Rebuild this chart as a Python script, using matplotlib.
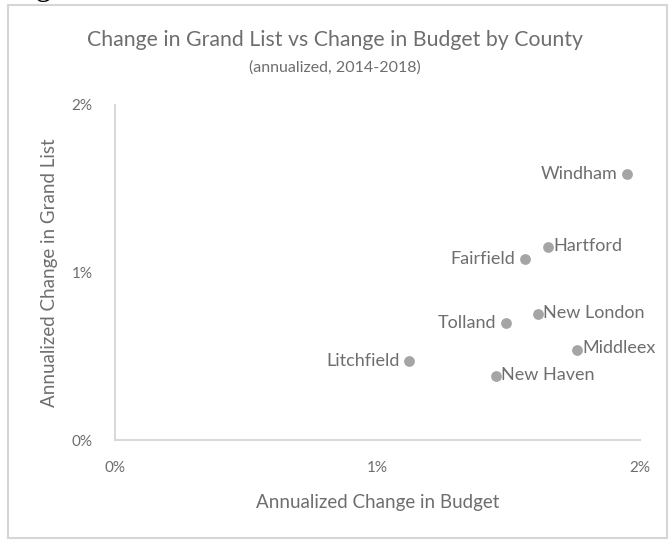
import numpy as np
import matplotlib
matplotlib.use("Agg")
import matplotlib.pyplot as plt
from matplotlib.patches import Rectangle
from matplotlib.ticker import FuncFormatter

# annualized % change, 2014-2018
counties = ["Windham", "Hartford", "Fairfield", "New London", "Tolland",
            "Middleex", "Litchfield", "New Haven"]
budget_chg = [1.95, 1.65, 1.56, 1.61, 1.49, 1.76, 1.12, 1.45]
grandlist_chg = [1.59, 1.15, 1.08, 0.75, 0.70, 0.54, 0.47, 0.38]
label_side = ["left", "right", "left", "right", "left", "right", "left", "right"]

txt = "#6e6e6e"
plt.rcParams['font.family'] = ['Lato', 'DejaVu Sans']

fig = plt.figure(figsize=(6.7, 5.4), dpi=100)
ax = fig.add_axes([115/670, 1 - 440/540, 525/670, 335/540])

# chart frame
fig.patches.append(Rectangle((8/670, 2/540), 659/670, 533/540, transform=fig.transFigure,
                             fill=False, edgecolor="#d6d6d6", linewidth=1.5))
# tail of a letter from the line above the chart
fig.text(36/670, 1 + 5/540, "g", ha="left", va="baseline", fontsize=22,
         color="black", family="Liberation Serif")

ax.scatter(budget_chg, grandlist_chg, s=60, color="#a5a5a5", zorder=3, linewidths=0)

for name, x, y, side in zip(counties, budget_chg, grandlist_chg, label_side):
    if side == "left":
        ax.annotate(name, (x, y), xytext=(-7, 0), textcoords="offset points",
                    ha="right", va="center", fontsize=13, color=txt)
    else:
        ax.annotate(name, (x, y), xytext=(4, 1), textcoords="offset points",
                    ha="left", va="center", fontsize=13, color=txt)

ax.set_xlim(0, 2)
ax.set_ylim(0, 2)
ax.set_xticks([0, 1, 2])
ax.set_yticks([0, 1, 2])
pct = FuncFormatter(lambda v, p: f"{v:.0f}%")
ax.xaxis.set_major_formatter(pct)
ax.yaxis.set_major_formatter(pct)
ax.tick_params(length=0, labelsize=11, labelcolor=txt)
ax.tick_params(axis="x", pad=15)
ax.tick_params(axis="y", pad=16)

for s in ["top", "right"]:
    ax.spines[s].set_visible(False)
for s in ["left", "bottom"]:
    ax.spines[s].set_color("#d9d9d9")
    ax.spines[s].set_linewidth(1.5)

ax.set_xlabel("Annualized Change in Budget", fontsize=13.5, color=txt, labelpad=14)
ax.set_ylabel("Annualized Change in Grand List", fontsize=13.5, color=txt, labelpad=10)

fig.text(335/670, 1 - 40/540, "Change in Grand List vs Change in Budget by County",
         ha="center", va="center", fontsize=15.3, color=txt)
fig.text(335/670, 1 - 68/540, "(annualized, 2014-2018)",
         ha="center", va="center", fontsize=11.5, color=txt)

fig.savefig("out.png", dpi=100)
